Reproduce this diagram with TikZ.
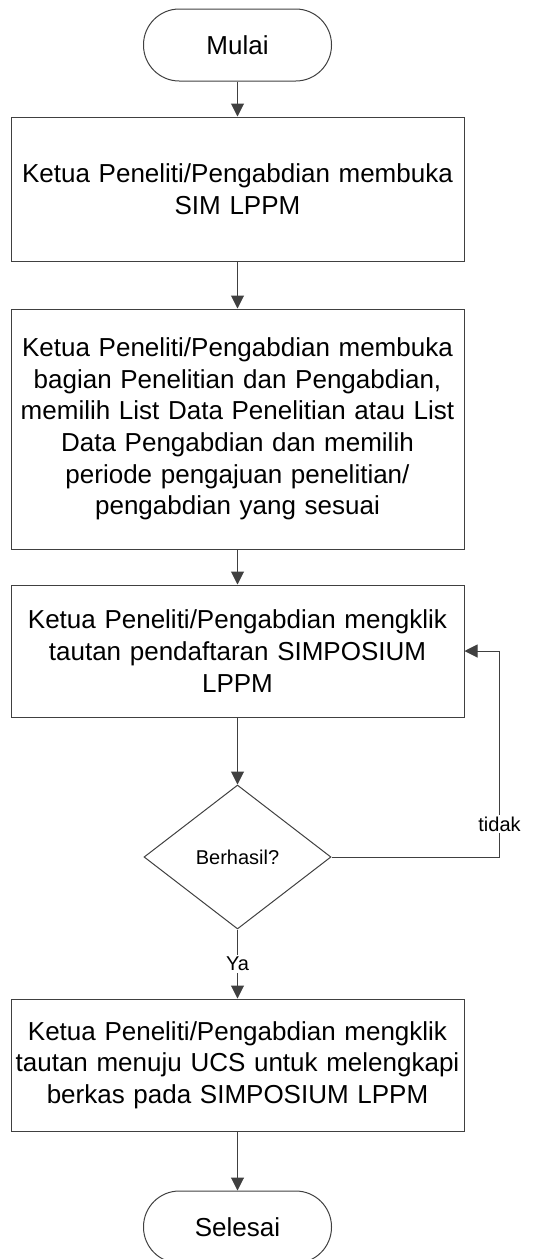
\documentclass[tikz,border=0pt]{standalone}
\usepackage{fontspec}
\setmainfont{Liberation Sans}
\usepackage{tikz}
\usetikzlibrary{shapes.geometric, arrows.meta}
\tikzstyle{terminal} = [rectangle, rounded corners=17.9pt, minimum width=94pt, minimum height=36pt, text centered, draw=black!75, line width=0.5pt, font=\fontsize{13}{15.85}\selectfont]
\tikzstyle{process} = [rectangle, minimum width=226.5pt, text width=226pt, align=center, inner sep=0pt, draw=black!75, line width=0.5pt, font=\fontsize{13}{15.85}\selectfont]
\tikzstyle{decision} = [diamond, minimum width=93.5pt, minimum height=72pt, inner sep=0pt, text centered, draw=black!75, line width=0.5pt, font=\fontsize{10}{12}\selectfont]
\tikzstyle{lbl} = [fill=white, inner sep=1pt, font=\fontsize{10}{12}\selectfont]
\tikzstyle{arrow} = [draw=black!75, line width=0.5pt, -{Triangle[width=6.5pt,length=6.5pt]}]

\begin{document}
\begin{tikzpicture}[x=0.5pt, y=-0.5pt]
	\useasboundingbox (0,0) rectangle (533,1259);
	\node (start) [terminal] at (237.5,45) {Mulai};
	\node (pro1) [process, below of=start, node distance=72pt, minimum height=72pt] {Ketua Peneliti/Pengabdian membuka\\SIM LPPM};
	\node (pro2) [process, below of=pro1, node distance=120pt, minimum height=120pt] {Ketua Peneliti/Pengabdian membuka\\bagian Penelitian dan Pengabdian,\\memilih List Data Penelitian atau List\\Data Pengabdian dan memilih\\periode pengajuan penelitian/\\pengabdian yang sesuai};
	\node (pro3) [process, below of=pro2, node distance=111pt, minimum height=66pt] {Ketua Peneliti/Pengabdian mengklik\\tautan pendaftaran SIMPOSIUM\\LPPM};
	\node (dec1) [decision, below of=pro3, node distance=103pt] {Berhasil?};
	\node (pro4) [process, below of=dec1, node distance=104pt, minimum height=66pt] {Ketua Peneliti/Pengabdian mengklik\\tautan menuju UCS untuk melengkapi\\berkas pada SIMPOSIUM LPPM};
	\node (stop) [terminal, below of=pro4, node distance=81pt] {Selesai};
	\draw [arrow] (start) -- (pro1);
	\draw [arrow] (pro1) -- (pro2);
	\draw [arrow] (pro2) -- (pro3);
	\draw [arrow] (pro3) -- (dec1);
	\draw [arrow] (dec1) -- node (ya) [lbl] {Ya} (pro4);
	\draw [arrow] (dec1.east) -- ++(84pt,0) |- node (tidak) [lbl, pos=0.08] {tidak} (pro3.east);
	\draw [arrow] (pro4) -- (stop);
\end{tikzpicture}
\end{document}
